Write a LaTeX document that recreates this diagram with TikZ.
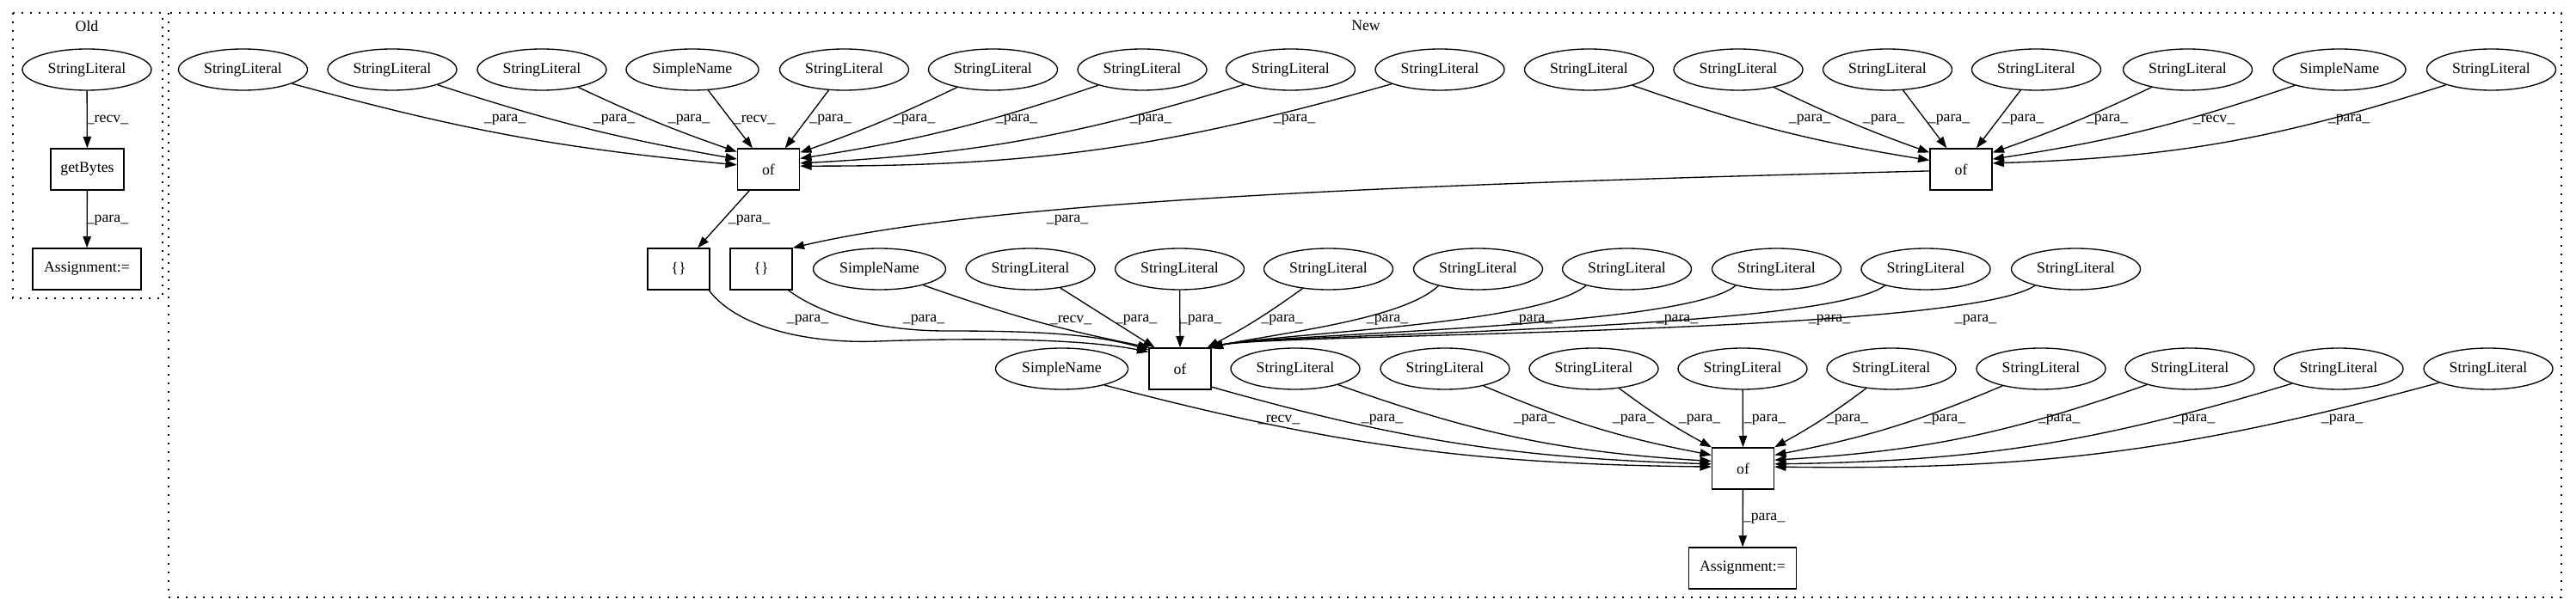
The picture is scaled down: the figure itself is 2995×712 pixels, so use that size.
\documentclass[tikz,border=0pt]{standalone}
\usepackage{fontspec}
\setmainfont{Liberation Serif}
\usetikzlibrary{arrows.meta,shapes.geometric}
\tikzset{
 ell/.style={draw, ellipse, line width=1pt, minimum width=112.5pt, minimum height=36pt, inner sep=0pt},
 sn/.style={ell, minimum width=115.5pt},
 rbox/.style={draw, rectangle, line width=1pt, minimum width=54pt, minimum height=36pt, inner sep=0pt},
 edg/.style={line width=1pt, -{Triangle[length=10pt,width=7pt]}},
 lab/.style={inner sep=0pt},
 clus/.style={line width=1pt, dash pattern=on 1.5pt off 6pt},
}
\begin{document}
\begin{tikzpicture}[x=0.75pt,y=-0.75pt, every node/.append style={font=\fontsize{13.3}{16}\selectfont}]
\useasboundingbox (0,0) rectangle (2995,712);
% clusters
\draw[clus] (15,15) rectangle (189,347);
\draw[clus] (196,15) rectangle (2978,695);
\node[lab] (oldt) at (101,30) {Old};
\node[lab] (newt) at (1588,30) {New};
% Old
\node[ell] (oSL) at (101,81) {StringLiteral};
\node[rbox, minimum width=63.75pt] (oGB) at (101.5,197) {getBytes};
\node[rbox, minimum width=94.5pt] (oAS) at (101,313) {Assignment:=};
\draw[edg] (oSL) -- (oGB);
\draw[edg] (oGB) -- (oAS);
\node[lab] (ol1) at (125,139) {\_recv\_};
\node[lab] (ol2) at (125,256) {\_para\_};
% top row
\node[ell] (t1) at (282.5,81) {StringLiteral};
\node[ell] (t2) at (456,81) {StringLiteral};
\node[ell] (t3) at (630,81) {StringLiteral};
\node[sn]  (t4) at (805,81) {SimpleName};
\node[ell] (t5) at (981.5,81) {StringLiteral};
\node[ell] (t6) at (1154.5,81) {StringLiteral};
\node[ell] (t7) at (1328,81) {StringLiteral};
\node[ell] (t8) at (1500.5,81) {StringLiteral};
\node[ell] (t9) at (1674,81) {StringLiteral};
\node[ell] (t10) at (1847.5,81) {StringLiteral};
\node[ell] (t11) at (2021,81) {StringLiteral};
\node[ell] (t12) at (2194.5,81) {StringLiteral};
\node[ell] (t13) at (2367.5,81) {StringLiteral};
\node[ell] (t14) at (2543.5,81) {StringLiteral};
\node[sn]  (t15) at (2720,81) {SimpleName};
\node[ell] (t16) at (2896.5,81) {StringLiteral};
\node[rbox] (of1) at (893.5,197) {of};
\node[rbox] (of2) at (2280,197) {of};
% row 2
\node[rbox] (b1) at (789,313) {\{\}};
\node[rbox] (b2) at (885,313) {\{\}};
\node[sn]  (m0) at (1022.5,313) {SimpleName};
\node[ell] (m1) at (1198,313) {StringLiteral};
\node[ell] (m2) at (1371.5,313) {StringLiteral};
\node[ell] (m3) at (1544.5,313) {StringLiteral};
\node[ell] (m4) at (1718.5,313) {StringLiteral};
\node[ell] (m5) at (1891.5,313) {StringLiteral};
\node[ell] (m6) at (2065.5,313) {StringLiteral};
\node[ell] (m7) at (2239,313) {StringLiteral};
\node[ell] (m8) at (2413.5,313) {StringLiteral};
% row 3
\node[sn]  (r0) at (1234.5,429) {SimpleName};
\node[rbox] (of3) at (1372,429) {of};
\node[ell] (r1) at (1506,429) {StringLiteral};
\node[ell] (r2) at (1680,429) {StringLiteral};
\node[ell] (r3) at (1853,429) {StringLiteral};
\node[ell] (r4) at (2026,429) {StringLiteral};
\node[ell] (r5) at (2199,429) {StringLiteral};
\node[ell] (r6) at (2373,429) {StringLiteral};
\node[ell] (r7) at (2546,429) {StringLiteral};
\node[ell] (r8) at (2719,429) {StringLiteral};
\node[ell] (r9) at (2893,429) {StringLiteral};
\node[rbox] (of4) at (2026.5,545) {of};
\node[rbox, minimum width=93.75pt] (nAS) at (2026,661) {Assignment:=};
% edges into of1
\draw[edg] (t1) to[bend right=5] (of1.172);
\draw[edg] (t2) to[bend right=4] (of1.162);
\draw[edg] (t3) to[bend right=3] (of1.151);
\draw[edg] (t4) -- (of1.127);
\draw[edg] (t5) -- (of1.52);
\draw[edg] (t6) to[bend left=3] (of1.28);
\draw[edg] (t7) to[bend left=5] (of1.19);
\draw[edg] (t8) to[bend left=7] (of1.11);
\draw[edg] (t9) to[bend left=8] (of1.6);
% edges into of2
\draw[edg] (t10) to[bend right=5] (of2.164);
\draw[edg] (t11) to[bend right=3] (of2.152);
\draw[edg] (t12) -- (of2.124);
\draw[edg] (t13) -- (of2.54);
\draw[edg] (t14) to[bend left=3] (of2.28);
\draw[edg] (t15) to[bend left=5] (of2.18);
\draw[edg] (t16) to[bend left=8] (of2.11);
% of1 -> {}, of2 -> {}
\draw[edg] (of1) -- (b1);
\draw[edg] (of2.183) .. controls (1600,215) and (1150,235) .. (b2.north east);
% into of3
\draw[edg] (b1.-35) .. controls (860,385) and (950,400) .. (1021,397) .. controls (1100,394) and (1250,392) .. (of3.152);
\draw[edg] (b2.-38) .. controls (960,370) and (1030,385) .. (1100,385) .. controls (1200,385) and (1270,388) .. (of3.149);
\draw[edg] (m0) to[bend right=4] (of3.145);
\draw[edg] (m1) -- (of3.140);
\draw[edg] (m2) -- (of3.north);
\draw[edg] (m3) to[bend left=4] (of3.38);
\draw[edg] (m4.203) .. controls (1630,372) and (1490,387) .. (of3.37);
\draw[edg] (m5.202) .. controls (1790,378) and (1480,388) .. (of3.36);
\draw[edg] (m6.202) .. controls (1960,382) and (1475,388) .. (of3.35);
\draw[edg] (m7.202) .. controls (2120,386) and (1470,388) .. (of3.34);
\draw[edg] (m8.202) .. controls (2280,390) and (1465,388) .. (of3.33);
% into of4
\draw[edg] (r0.-21) to[bend right=7] (of4.177);
\draw[edg] (of3.-30) to[bend right=7] (of4.172);
\draw[edg] (r1) to[bend right=8] (of4.167);
\draw[edg] (r2) to[bend right=6] (of4.157);
\draw[edg] (r3) to[bend right=4] (of4.146);
\draw[edg] (r4) -- (of4.north);
\draw[edg] (r5) to[bend left=4] (of4.34);
\draw[edg] (r6) to[bend left=6] (of4.23);
\draw[edg] (r7) to[bend left=8] (of4.15);
\draw[edg] (r8) to[bend left=8] (of4.8);
\draw[edg] (r9) to[bend left=8] (of4.3);
\draw[edg] (of4) -- (nAS);
% labels of1
\node[lab] (la1) at (587,139) {\_para\_};
\node[lab] (la2) at (714,139) {\_para\_};
\node[lab] (la3) at (801,139) {\_para\_};
\node[lab] (la4) at (877,139) {\_recv\_};
\node[lab] (la5) at (965.5,139) {\_para\_};
\node[lab] (la6) at (1063,139) {\_para\_};
\node[lab] (la7) at (1182,139) {\_para\_};
\node[lab] (la8) at (1338,139) {\_para\_};
\node[lab] (la9) at (1505,139) {\_para\_};
% labels of2
\node[lab] (lb1) at (2104,139) {\_para\_};
\node[lab] (lb2) at (2190,139) {\_para\_};
\node[lab] (lb3) at (2266,139) {\_para\_};
\node[lab] (lb4) at (2352,139) {\_para\_};
\node[lab] (lb5) at (2450,139) {\_para\_};
\node[lab] (lb6) at (2574,139) {\_recv\_};
\node[lab] (lb7) at (2731,139) {\_para\_};
\node[lab] (lc1) at (871,256) {\_para\_};
\node[lab] (lc2) at (1241,256) {\_para\_};
% labels of3
\node[lab] (ld1) at (939,372) {\_para\_};
\node[lab] (ld2) at (1074,372) {\_para\_};
\node[lab] (ld3) at (1245,372) {\_recv\_};
\node[lab] (ld4) at (1321,372) {\_para\_};
\node[lab] (ld5) at (1396,372) {\_para\_};
\node[lab] (ld6) at (1490.5,372) {\_para\_};
\node[lab] (ld7) at (1613,372) {\_para\_};
\node[lab] (ld8) at (1781,372) {\_para\_};
\node[lab] (ld9) at (1950,372) {\_para\_};
\node[lab] (ld10) at (2127,372) {\_para\_};
\node[lab] (ld11) at (2297,372) {\_para\_};
% labels of4
\node[lab] (le1) at (1487,488) {\_recv\_};
\node[lab] (le2) at (1607,488) {\_para\_};
\node[lab] (le3) at (1784,488) {\_para\_};
\node[lab] (le4) at (1899,488) {\_para\_};
\node[lab] (le5) at (1976,488) {\_para\_};
\node[lab] (le6) at (2052,488) {\_para\_};
\node[lab] (le7) at (2148,488) {\_para\_};
\node[lab] (le8) at (2261,488) {\_para\_};
\node[lab] (le9) at (2394,488) {\_para\_};
\node[lab] (le10) at (2551,488) {\_para\_};
\node[lab] (le11) at (2723,488) {\_para\_};
\node[lab] (lf1) at (2051,603) {\_para\_};
\end{tikzpicture}
\end{document}
